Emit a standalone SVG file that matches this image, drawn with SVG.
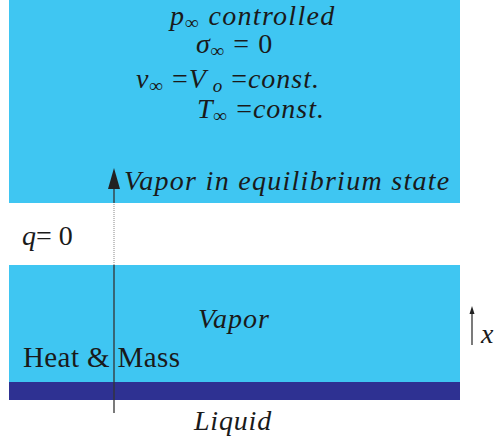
<svg xmlns="http://www.w3.org/2000/svg" width="495" height="443" viewBox="0 0 495 443">
<g id="vapor-top">
<rect fill="#3fc6f2" x="9" y="0" width="451" height="203"/>
<text font-family="Liberation Serif" font-size="28" font-style="italic" fill="#1a1a1a" x="170" y="25" letter-spacing="1.3">p<tspan font-size="19" dy="4">∞</tspan><tspan dy="-4"> controlled</tspan></text>
<text font-family="Liberation Serif" font-size="28" font-style="italic" fill="#1a1a1a" x="196" y="53" letter-spacing="1">σ<tspan font-size="19" dy="4">∞</tspan><tspan dy="-4" font-style="normal"> = 0</tspan></text>
<text font-family="Liberation Serif" font-size="28" font-style="italic" fill="#1a1a1a" x="136" y="88" letter-spacing="1">v<tspan font-size="19" dy="4">∞</tspan><tspan dy="-4" font-style="normal"> =</tspan><tspan>V</tspan><tspan font-size="19" dy="4"> o</tspan><tspan dy="-4" font-style="normal"> =</tspan><tspan>const.</tspan></text>
<text font-family="Liberation Serif" font-size="28" font-style="italic" fill="#1a1a1a" x="197" y="118" letter-spacing="1">T<tspan font-size="19" dy="4">∞</tspan><tspan dy="-4" font-style="normal"> =</tspan><tspan>const.</tspan></text>
<text font-family="Liberation Serif" font-size="28" font-style="italic" fill="#1a1a1a" x="124" y="190" letter-spacing="1.28">Vapor in equilibrium state</text>
</g>
<g id="gap">
<text font-family="Liberation Serif" font-size="28" fill="#1a1a1a" x="22" y="245"><tspan font-style="italic">q</tspan>= 0</text>
</g>
<g id="vapor-bottom">
<rect fill="#3fc6f2" x="9" y="265" width="451" height="117"/>
<text font-family="Liberation Serif" font-size="28" font-style="italic" fill="#1a1a1a" x="198" y="328" letter-spacing="1">Vapor</text>
<text font-family="Liberation Serif" font-size="29" fill="#1a1a1a" x="23" y="367" letter-spacing="0.4">Heat &amp; Mass</text>
</g>
<g id="liquid">
<rect x="9" y="382" width="451" height="18" fill="#2e3192"/>
<text font-family="Liberation Serif" font-size="28" font-style="italic" fill="#1a1a1a" x="194" y="430" letter-spacing="0.8">Liquid</text>
</g>
<g id="axis">
<line x1="472" y1="345" x2="472" y2="310" stroke="#222" stroke-width="1.2"/>
<path d="M469.5,314 L472,306 L474.5,314 Z" fill="#222"/>
<text font-family="Liberation Serif" font-size="28" font-style="italic" fill="#1a1a1a" x="481" y="343">x</text>
</g>
<g id="connectors">
<line x1="114" y1="413" x2="114" y2="265" stroke="#333" stroke-width="1.3"/>
<line x1="114" y1="265" x2="114" y2="203" stroke="#888" stroke-width="1" stroke-dasharray="1,1"/>
<line x1="114" y1="203" x2="114" y2="185" stroke="#333" stroke-width="1.3"/>
<path d="M108,189 L114,168 L120,189 Z" fill="#222"/>
</g>
</svg>
